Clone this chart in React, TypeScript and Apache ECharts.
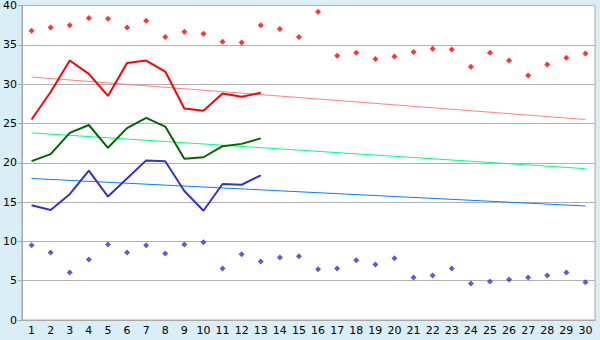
import React, { useEffect, useRef } from "react";
import * as echarts from "echarts";

const days = Array.from({ length: 30 }, (_, i) => String(i + 1));
const recordMax = [36.8, 37.2, 37.5, 38.4, 38.3, 37.2, 38.05, 36.0, 36.65, 36.4, 35.4, 35.3, 37.5, 37.0, 36.0, 39.2, 33.6, 34.0, 33.2, 33.5, 34.1, 34.5, 34.4, 32.2, 34.0, 33.0, 31.1, 32.5, 33.35, 33.9];
const recordMin = [9.5, 8.6, 6.05, 7.7, 9.6, 8.6, 9.5, 8.45, 9.6, 9.9, 6.55, 8.35, 7.45, 7.95, 8.1, 6.45, 6.55, 7.6, 7.05, 7.85, 5.4, 5.65, 6.55, 4.65, 4.9, 5.15, 5.4, 5.65, 6.05, 4.8];
const maxTemp = [25.5, 29.0, 33.0, 31.3, 28.5, 32.7, 33.0, 31.6, 26.9, 26.6, 28.8, 28.4, 28.9];
const meanTemp = [20.2, 21.1, 23.8, 24.8, 21.9, 24.4, 25.7, 24.6, 20.5, 20.7, 22.1, 22.4, 23.1];
const minTemp = [14.6, 14.0, 16.0, 19.0, 15.7, 18.0, 20.3, 20.2, 16.4, 13.9, 17.3, 17.2, 18.4];
const maxTrend = [30.9, 25.5];
const meanTrend = [23.8, 19.25];
const minTrend = [18.0, 14.5];

const trend = (v: number[]) => [[days[0], v[0]], [days[days.length - 1], v[1]]];

export default function App() {
  const ref = useRef<HTMLDivElement>(null);
  useEffect(() => {
    const chart = echarts.init(ref.current!, null, { renderer: "svg" });
    const font = { fontFamily: "DejaVu Sans", fontSize: 11, color: "#000" };
    chart.setOption({
      animation: false,
      backgroundColor: "#d9eef6",
      grid: {
        left: 20, right: 5, top: 5, bottom: 20,
        show: true, backgroundColor: "#fff", borderColor: "#a8a8a8", borderWidth: 1,
      },
      xAxis: {
        type: "category",
        data: days,
        boundaryGap: true,
        axisLine: { lineStyle: { color: "#a8a8a8" } },
        axisTick: { alignWithLabel: true, length: 4, lineStyle: { color: "#a8a8a8" } },
        axisLabel: { ...font, margin: 5, interval: 0 },
        splitLine: { show: false },
      },
      yAxis: {
        type: "value",
        min: 0, max: 40, interval: 5,
        axisLine: { show: true, lineStyle: { color: "#a8a8a8" } },
        axisTick: { show: true, length: 4, lineStyle: { color: "#a8a8a8" } },
        axisLabel: { ...font, margin: 5 },
        splitLine: { lineStyle: { color: "#b0b0b0" } },
      },
      series: [
        { type: "line", data: trend(maxTrend), symbol: "none", lineStyle: { color: "#ff8080", width: 1 } },
        { type: "line", data: trend(meanTrend), symbol: "none", lineStyle: { color: "#00ff80", width: 1 } },
        { type: "line", data: trend(minTrend), symbol: "none", lineStyle: { color: "#0080ff", width: 1 } },
        { type: "line", data: maxTemp, symbol: "none", lineStyle: { color: "#ff0000", width: 2 } },
        { type: "line", data: meanTemp, symbol: "none", lineStyle: { color: "#006600", width: 2 } },
        { type: "line", data: minTemp, symbol: "none", lineStyle: { color: "#3333cc", width: 2 } },
        { type: "scatter", data: recordMax, symbol: "diamond", symbolSize: 6, itemStyle: { color: "#ff0000" } },
        { type: "scatter", data: recordMin, symbol: "diamond", symbolSize: 6, itemStyle: { color: "#3333cc" } },
      ],
    });
    return () => chart.dispose();
  }, []);
  return <div ref={ref} style={{ width: 600, height: 340, position: "absolute", left: 0, top: 0 }} />;
}
